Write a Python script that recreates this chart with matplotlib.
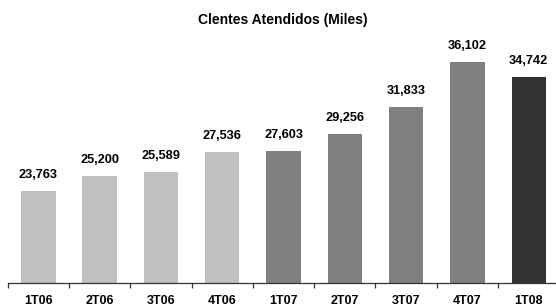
import matplotlib
matplotlib.use("Agg")
import matplotlib.pyplot as plt
import numpy as np

plt.rcParams['font.family'] = ['Liberation Sans', 'DejaVu Sans']

# 数据
quarters = ["1T06", "2T06", "3T06", "4T06", "1T07", "2T07", "3T07", "4T07", "1T08"]
values = [23763, 25200, 25589, 27536, 27603, 29256, 31833, 36102, 34742]
colors = ["#c0c0c0"] * 4 + ["#808080"] * 4 + ["#333333"]

fig = plt.figure(figsize=(5.56, 3.06), dpi=100)
ax = fig.add_axes([7.7 / 556, 23 / 306, 548.3 / 556, 253 / 306])

x = np.arange(len(quarters))
ax.bar(x, values, width=0.56, color=colors, zorder=2)

for xi, v in zip(x, values):
    ax.annotate(f"{v:,}", (xi, v), xytext=(0, 11.5), textcoords="offset points",
                ha="center", va="center", fontsize=9.2, fontweight="bold")

ax.set_ylim(15000, 15000 + 253 / 0.010455)
ax.set_xlim(-0.5, -0.5 + 548.3 / 61.3)

# 坐标轴
for s in ["top", "right", "left"]:
    ax.spines[s].set_visible(False)
ax.spines["bottom"].set_color("#333333")
ax.spines["bottom"].set_linewidth(0.9)
ax.set_yticks([])
ax.set_xticks(x)
ax.set_xticklabels(quarters, fontsize=9, fontweight="bold")
ax.tick_params(axis="x", which="major", length=0, pad=9)
ax.set_xticks(np.arange(-0.5, len(quarters) - 0.5, 1), minor=True)
ax.tick_params(axis="x", which="minor", length=3.5, width=0.9, color="#333333")

fig.text(283 / 556, 1 - 20 / 306, "Clentes Atendidos (Miles)",
         ha="center", va="center", fontsize=10, fontweight="bold")

fig.savefig("out.png", dpi=100, facecolor="white")
